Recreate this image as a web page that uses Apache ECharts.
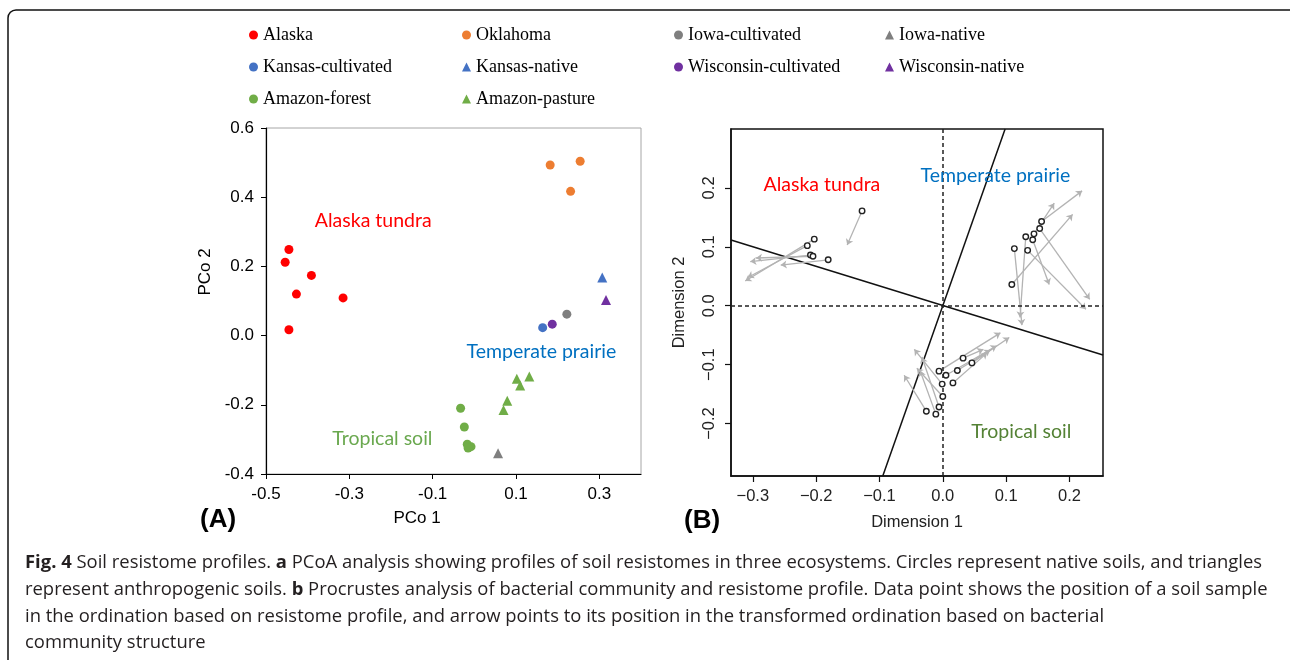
<!DOCTYPE html>
<html>
<head>
<meta charset="utf-8">
<script src="https://cdn.jsdelivr.net/npm/echarts@6/dist/echarts.min.js"></script>
<style>
  html, body { margin: 0; padding: 0; background: #fff; }
  #chart { width: 1290px; height: 660px; }
</style>
</head>
<body>
<div id="chart"></div>
<script>
// ---- panel A: PCoA scores (PCo 1, PCo 2) ----
const alaska = [[-0.445, 0.249], [-0.454, 0.212], [-0.391, 0.174], [-0.427, 0.120], [-0.315, 0.109], [-0.445, 0.017]]
const oklahoma = [[0.182, 0.493], [0.254, 0.504], [0.231, 0.417]]
const iowaCultivated = [[0.222, 0.062]]
const iowaNative = [[0.057, -0.340]]
const kansasCultivated = [[0.164, 0.023]]
const kansasNative = [[0.307, 0.168]]
const wisconsinCultivated = [[0.187, 0.033]]
const wisconsinNative = [[0.316, 0.103]]
const amazonForest = [[-0.033, -0.210], [-0.024, -0.264], [-0.017, -0.314], [-0.008, -0.321], [-0.015, -0.325]]
const amazonPasture = [[0.102, -0.125], [0.132, -0.118], [0.110, -0.144], [0.079, -0.188], [0.070, -0.215]]

const aTicksX = [-0.5, -0.3, -0.1, 0.1, 0.3]
const aLabels = [
  { name: 'Alaska tundra', value: [-0.384, 0.333], color: '#ff0000' },
  { name: 'Temperate prairie', value: [-0.02, -0.046], color: '#0070c0' },
  { name: 'Tropical soil', value: [-0.342, -0.299], color: '#6aa84f' }
]

// ---- panel B: Procrustes (sample position -> transformed position) ----
const bPoints = [
  [-0.1275, 0.161], [-0.203, 0.113], [-0.214, 0.102], [-0.209, 0.086], [-0.205, 0.084], [-0.181, 0.078],
  [0.156, 0.143], [0.153, 0.131], [0.144, 0.122], [0.131, 0.117], [0.142, 0.112], [0.134, 0.094], [0.113, 0.097], [0.109, 0.036],
  [0.032, -0.089], [0.046, -0.097], [-0.006, -0.111], [0.005, -0.118], [0.023, -0.110], [-0.001, -0.133],
  [0.016, -0.131], [0.000, -0.154], [-0.006, -0.172], [-0.011, -0.184], [-0.026, -0.179]
]
const bTargets = [
  [-0.151, 0.103], [-0.312, 0.042], [-0.308, 0.048], [-0.304, 0.075], [-0.295, 0.081], [-0.256, 0.069],
  [0.220, 0.195], [0.232, 0.011], [0.176, 0.174], [0.122, -0.020], [0.168, 0.036], [0.226, -0.006], [0.125, -0.033], [0.205, 0.155],
  [0.064, -0.074], [0.105, -0.054], [0.091, -0.046], [0.085, -0.068], [0.075, -0.075], [-0.045, -0.074],
  [0.070, -0.080], [-0.041, -0.106], [-0.033, -0.087], [-0.036, -0.110], [-0.061, -0.118]
]
const rotAxis1 = [[-0.0948, -0.289], [0.0984, 0.300]]
const rotAxis2 = [[-0.3345, 0.1115], [0.253, -0.0837]]
const bTicksX = [-0.3, -0.2, -0.1, 0, 0.1, 0.2]
const bTicksY = [-0.2, -0.1, 0, 0.1, 0.2]
const bLabels = [
  { name: 'Alaska tundra', value: [-0.284, 0.205], color: '#ff0000' },
  { name: 'Temperate prairie', value: [-0.036, 0.220], color: '#0070c0' },
  { name: 'Tropical soil', value: [0.044, -0.214], color: '#548235' }
]

const captionLines = [
  '{b|Fig. 4} Soil resistome profiles. {b|a} PCoA analysis showing profiles of soil resistomes in three ecosystems. Circles represent native soils, and triangles',
  'represent anthropogenic soils. {b|b} Procrustes analysis of bacterial community and resistome profile. Data point shows the position of a soil sample',
  'in the ordination based on resistome profile, and arrow points to its position in the transformed ordination based on bacterial',
  'community structure'
]

const axisFont = 'Liberation Sans'
const labelFont = 'Lato'
const capFont = 'Open Sans'
const capSize = 18

// measure first caption line to squeeze it to the reference width
function measureLine(line) {
  const ctx = document.createElement('canvas').getContext('2d')
  let w = 0
  line.split(/(\{b\|[^}]*\})/).forEach(part => {
    if (!part) return
    const m = part.match(/^\{b\|([^}]*)\}$/)
    ctx.font = (m ? 'bold ' : '') + capSize + 'px "' + capFont + '"'
    w += ctx.measureText(m ? m[1] : part).width
  })
  return w
}

const chart = echarts.init(document.getElementById('chart'))

function scatterA(name, data, color, symbol) {
  return {
    name, type: 'scatter', xAxisIndex: 0, yAxisIndex: 0,
    symbol, symbolSize: symbol === 'triangle' ? 10 : 9,
    itemStyle: { color, opacity: 1 },
    data, z: 5
  }
}

function textSeries(items, xi, yi, size) {
  return {
    type: 'scatter', xAxisIndex: xi, yAxisIndex: yi, symbol: 'circle', symbolSize: 1,
    silent: true,
    itemStyle: { color: 'rgba(0,0,0,0)', opacity: 1 },
    data: items.map(d => ({
      value: d.value,
      label: {
        show: true, position: 'right', distance: 0, formatter: d.name,
        color: d.color, fontFamily: labelFont, fontSize: size, opacity: 1
      }
    })),
    z: 6
  }
}

function legendCol(left, items) {
  return {
    orient: 'vertical', left, top: 25, padding: 0,
    itemWidth: 9, itemHeight: 9, itemGap: 12,
    textStyle: { fontFamily: 'Liberation Serif', fontSize: 18, color: '#000', lineHeight: 20 },
    data: items.map(n => ({ name: n, icon: /native|pasture/.test(n) ? 'triangle' : 'circle' })),
    selectedMode: false
  }
}

const bFmt = v => (v < 0 ? '\u2212' : '') + Math.abs(v).toFixed(1)

function initChart() {
  const fullW = measureLine(captionLines[0])
  const sx = 1237 / fullW

  const option = {
    backgroundColor: '#fff',
    animation: false,
    legend: [
      legendCol(249, ['Alaska', 'Kansas-cultivated', 'Amazon-forest']),
      legendCol(462, ['Oklahoma', 'Kansas-native', 'Amazon-pasture']),
      legendCol(674, ['Iowa-cultivated', 'Wisconsin-cultivated']),
      legendCol(885, ['Iowa-native', 'Wisconsin-native'])
    ],
    grid: [
      { left: 266, top: 128, width: 375, height: 346, show: true, borderColor: '#a6a6a6', borderWidth: 1 },
      { left: 731, top: 129, width: 372, height: 347, show: true, borderColor: '#111', borderWidth: 1.5 }
    ],
    xAxis: [
      {
        gridIndex: 0, type: 'value', min: -0.5, max: 0.4,
        axisLine: { onZero: false, lineStyle: { color: '#000', width: 1.2 } },
        axisTick: { show: true, length: 5, customValues: aTicksX, lineStyle: { color: '#000' } },
        axisLabel: { customValues: aTicksX, margin: 12, formatter: v => v.toFixed(1), fontFamily: axisFont, fontSize: 17, color: '#000' },
        splitLine: { show: false }
      },
      {
        gridIndex: 1, type: 'value', min: -0.3345, max: 0.253,
        axisLine: { onZero: false, lineStyle: { color: '#111', width: 1.5 } },
        axisTick: { show: true, length: 6, customValues: bTicksX, lineStyle: { color: '#111', width: 1.2 } },
        axisLabel: { customValues: bTicksX, margin: 12, formatter: bFmt, fontFamily: axisFont, fontSize: 16.5, color: '#222' },
        splitLine: { show: false },
        name: 'Dimension 1', nameLocation: 'middle', nameGap: 38,
        nameTextStyle: { fontFamily: axisFont, fontSize: 16.5, color: '#222' }
      }
    ],
    yAxis: [
      {
        gridIndex: 0, type: 'value', min: -0.4, max: 0.6, interval: 0.2,
        axisLine: { show: true, onZero: false, lineStyle: { color: '#000', width: 1.2 } },
        axisTick: { show: true, length: 5, lineStyle: { color: '#000' } },
        axisLabel: { margin: 12, formatter: v => v.toFixed(1), fontFamily: axisFont, fontSize: 17, color: '#000' },
        splitLine: { show: false }
      },
      {
        gridIndex: 1, type: 'value', min: -0.289, max: 0.300,
        axisLine: { show: true, onZero: false, lineStyle: { color: '#111', width: 1.5 } },
        axisTick: { show: true, length: 6, customValues: bTicksY, lineStyle: { color: '#111', width: 1.2 } },
        axisLabel: { customValues: bTicksY, rotate: 90, margin: 13, formatter: bFmt, fontFamily: axisFont, fontSize: 16.5, color: '#222' },
        splitLine: { show: false },
        name: 'Dimension 2', nameLocation: 'middle', nameGap: 43,
        nameTextStyle: { fontFamily: axisFont, fontSize: 16.5, color: '#222' }
      }
    ],
    series: [
      scatterA('Alaska', alaska, '#ff0000', 'circle'),
      scatterA('Oklahoma', oklahoma, '#ed7d31', 'circle'),
      scatterA('Iowa-cultivated', iowaCultivated, '#7f7f7f', 'circle'),
      scatterA('Iowa-native', iowaNative, '#7f7f7f', 'triangle'),
      scatterA('Kansas-cultivated', kansasCultivated, '#4472c4', 'circle'),
      scatterA('Kansas-native', kansasNative, '#4472c4', 'triangle'),
      scatterA('Wisconsin-cultivated', wisconsinCultivated, '#7030a0', 'circle'),
      scatterA('Wisconsin-native', wisconsinNative, '#7030a0', 'triangle'),
      scatterA('Amazon-forest', amazonForest, '#70ad47', 'circle'),
      scatterA('Amazon-pasture', amazonPasture, '#70ad47', 'triangle'),
      textSeries(aLabels, 0, 0, 19.5),
      // panel B reference lines
      {
        type: 'line', xAxisIndex: 1, yAxisIndex: 1, data: [], silent: true,
        markLine: {
          symbol: 'none', silent: true, label: { show: false },
          lineStyle: { color: '#222', type: [4, 3], width: 1.5 },
          data: [{ xAxis: 0 }, { yAxis: 0 }]
        }
      },
      {
        type: 'line', xAxisIndex: 1, yAxisIndex: 1, data: rotAxis1, symbol: 'none', silent: true,
        lineStyle: { color: '#111', width: 1.5 }, z: 3
      },
      {
        type: 'line', xAxisIndex: 1, yAxisIndex: 1, data: rotAxis2, symbol: 'none', silent: true,
        lineStyle: { color: '#111', width: 1.5 }, z: 3
      },
      {
        type: 'lines', coordinateSystem: 'cartesian2d', xAxisIndex: 1, yAxisIndex: 1, silent: true,
        symbol: ['none', 'arrow'], symbolSize: 6,
        lineStyle: { color: '#b3b3b3', width: 1.3, opacity: 1 },
        data: bPoints.map((p, i) => ({ coords: [p, bTargets[i]] })),
        z: 4
      },
      {
        type: 'scatter', xAxisIndex: 1, yAxisIndex: 1, symbol: 'circle', symbolSize: 5.5, silent: true,
        itemStyle: { color: '#fff', borderColor: '#222', borderWidth: 1.4, opacity: 1 },
        data: bPoints, z: 5
      },
      textSeries(bLabels, 1, 1, 19.5)
    ],
    graphic: [
      {
        type: 'rect', shape: { x: 8, y: 10, width: 1292, height: 700, r: 8 },
        style: { fill: 'none', stroke: '#111', lineWidth: 1.5 }, silent: true
      },
      {
        type: 'text', x: 205, y: 272, rotation: Math.PI / 2,
        style: { text: 'PCo 2', font: '17px "Liberation Sans"', fill: '#000', align: 'center', verticalAlign: 'middle' }
      },
      {
        type: 'text', x: 417, y: 518,
        style: { text: 'PCo 1', font: '17px "Liberation Sans"', fill: '#000', align: 'center', verticalAlign: 'middle' }
      },
      {
        type: 'text', x: 200, y: 520,
        style: { text: '(A)', font: 'bold 26px "Liberation Sans"', fill: '#000', verticalAlign: 'middle' }
      },
      {
        type: 'text', x: 684, y: 521,
        style: { text: '(B)', font: 'bold 26px "Liberation Sans"', fill: '#000', verticalAlign: 'middle' }
      }
    ].concat(captionLines.map((line, i) => ({
      type: 'text', x: 25, y: 563 + i * 26.7, scaleX: sx,
      style: {
        text: line, fontFamily: capFont, fontSize: capSize, fill: '#231f20', verticalAlign: 'middle',
        rich: { b: { fontFamily: capFont, fontSize: capSize, fontWeight: 'bold', fill: '#231f20' } }
      }
    })))
  }
  chart.setOption(option)
}

if (document.fonts && document.fonts.load) {
  document.fonts.load(capSize + 'px "' + capFont + '"').then(initChart, initChart)
} else {
  initChart()
}
</script>
</body>
</html>
